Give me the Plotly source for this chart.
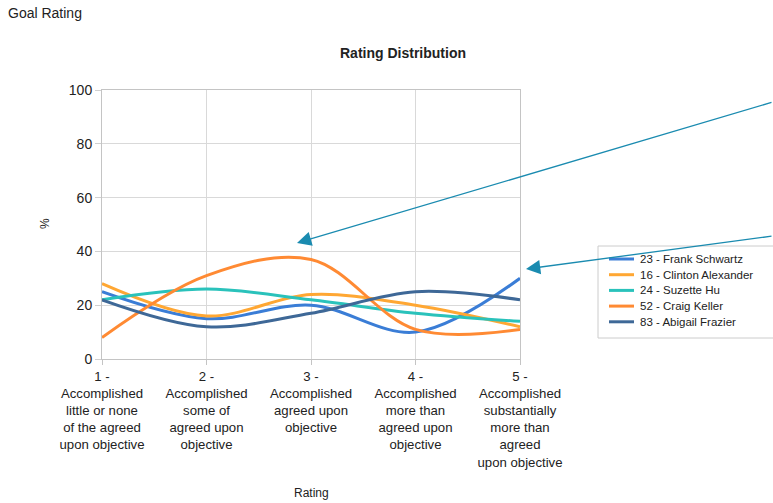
import plotly.graph_objects as go

# Rating categories (x axis)
ratings = [1, 2, 3, 4, 5]
rating_labels = [
    "1 -<br>Accomplished<br>little or none<br>of the agreed<br>upon objective",
    "2 -<br>Accomplished<br>some of<br>agreed upon<br>objective",
    "3 -<br>Accomplished<br>agreed upon<br>objective",
    "4 -<br>Accomplished<br>more than<br>agreed upon<br>objective",
    "5 -<br>Accomplished<br>substantially<br>more than<br>agreed<br>upon objective",
]

# Percentage of ratings per employee
frank_schwartz = [25, 15, 20, 10, 30]
clinton_alexander = [28, 16, 24, 20, 12]
suzette_hu = [22, 26, 22, 17, 14]
craig_keller = [8, 31, 37, 11, 11]
abigail_frazier = [22, 12, 17, 25, 22]

series = [
    ("23 - Frank Schwartz", frank_schwartz, "#3a7dd6"),
    ("16 - Clinton Alexander", clinton_alexander, "#ffa733"),
    ("24 - Suzette Hu", suzette_hu, "#2ac2bb"),
    ("52 - Craig Keller", craig_keller, "#ff8a33"),
    ("83 - Abigail Frazier", abigail_frazier, "#3e6897"),
]

fig = go.Figure()
for name, vals, color in series:
    fig.add_trace(go.Scatter(
        x=ratings, y=vals, name=name, mode="lines", showlegend=False,
        line=dict(color=color, width=3, shape="spline", smoothing=1.0),
    ))

W, H = 773, 503
L, R, T, B = 102, 253, 90, 144
pw, ph = W - L - R, H - T - B


def px_to_paper(px, py):
    return (px - L) / pw, (H - B - py) / ph


text_color = "#222222"
arrow_color = "#1a8bb0"
annotations = [
    dict(text="<b>Rating Distribution</b>", xref="paper", yref="paper",
         x=px_to_paper(403, 0)[0], y=px_to_paper(0, 53)[1],
         xanchor="center", yanchor="middle", showarrow=False,
         font=dict(size=14, color=text_color)),
    dict(text="Rating", xref="paper", yref="paper",
         x=px_to_paper(311, 0)[0], y=px_to_paper(0, 493)[1],
         xanchor="center", yanchor="middle", showarrow=False,
         font=dict(size=12, color=text_color)),
    dict(text="%", xref="paper", yref="paper", textangle=-90,
         x=px_to_paper(45, 0)[0], y=px_to_paper(0, 224)[1],
         xanchor="center", yanchor="middle", showarrow=False,
         font=dict(size=12, color=text_color)),
]
# Two callout arrows entering from the right edge
for head, tail in [((297, 243), (773, 102)), ((526, 269), (773, 236))]:
    hx, hy = px_to_paper(*head)
    annotations.append(dict(
        x=hx, y=hy, xref="paper", yref="paper", text="",
        showarrow=True, arrowhead=2, arrowsize=2.2, arrowwidth=1.3,
        arrowcolor=arrow_color, standoff=0,
        ax=tail[0] - head[0], ay=tail[1] - head[1],
    ))

# Compact legend box on the right
shapes = []
bx0, by0 = px_to_paper(598, 338)
bx1, by1 = px_to_paper(790, 246)
shapes.append(dict(type="rect", xref="paper", yref="paper",
                   x0=bx0, y0=by0, x1=bx1, y1=by1,
                   line=dict(color="#cccccc", width=1), fillcolor="white",
                   layer="above"))
for i, (name, _, color) in enumerate(series):
    yy = 259 + i * 15.7
    x0, y0 = px_to_paper(609, yy)
    x1, _ = px_to_paper(634, yy)
    shapes.append(dict(type="line", xref="paper", yref="paper",
                       x0=x0, x1=x1, y0=y0, y1=y0,
                       line=dict(color=color, width=3), layer="above"))
    tx, _ = px_to_paper(638, yy)
    annotations.append(dict(text=name, xref="paper", yref="paper",
                            x=tx, y=y0, xanchor="left", yanchor="middle",
                            showarrow=False,
                            font=dict(size=11.5, color=text_color)))

fig.update_layout(
    width=W, height=H,
    margin=dict(l=L, r=R, t=T, b=B),
    paper_bgcolor="white", plot_bgcolor="white",
    font=dict(family="Liberation Sans, Arial, sans-serif", color=text_color),
    title=dict(text="Goal Rating", x=8 / W, xanchor="left", y=1 - 13 / H,
               yanchor="middle", xref="container", yref="container",
               font=dict(size=14, color=text_color)),
    xaxis=dict(
        range=[1, 5], tickmode="array", tickvals=ratings, ticktext=rating_labels,
        showgrid=True, gridcolor="#d9d9d9", gridwidth=1,
        showline=True, linecolor="#c4c4c4", linewidth=1, mirror=True,
        ticks="outside", ticklen=5, tickcolor="#c4c4c4",
        tickfont=dict(size=13.2, color=text_color),
        automargin=False, zeroline=False, fixedrange=True,
    ),
    yaxis=dict(
        range=[0, 100], tickvals=[0, 20, 40, 60, 80, 100],
        showgrid=True, gridcolor="#d9d9d9", gridwidth=1,
        showline=True, linecolor="#c4c4c4", linewidth=1, mirror=True,
        ticks="outside", ticklen=6, tickcolor="#d0d0d0",
        tickfont=dict(size=14, color=text_color),
        automargin=False, zeroline=False, fixedrange=True,
    ),
    annotations=annotations,
    shapes=shapes,
    showlegend=False,
)

fig.write_html("out.html")
